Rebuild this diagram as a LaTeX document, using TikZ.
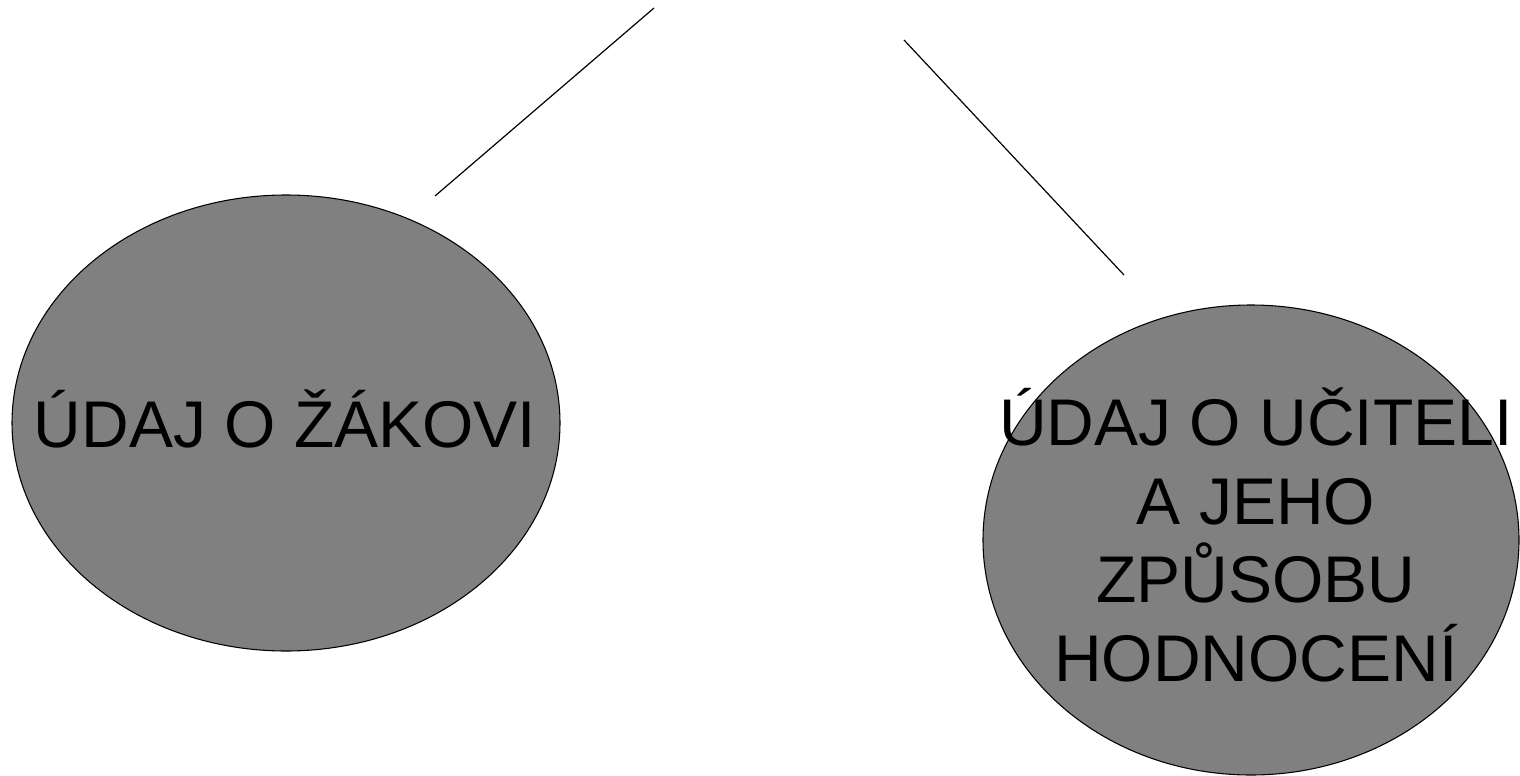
\documentclass[tikz,border=0pt]{standalone}
\usepackage{fontspec}
\setmainfont{Liberation Sans}
\usetikzlibrary{shapes.geometric}
\begin{document}
\begin{tikzpicture}[x=0.75pt,y=-0.75pt,
  blob/.style={ellipse,draw=black,line width=0.8pt,fill={rgb,255:red,128;green,128;blue,128},inner sep=0pt},
  label/.style={font=\fontsize{49.5}{59}\selectfont,align=center,inner sep=0pt,text=black},
  link/.style={draw=black,line width=0.9pt}]
\useasboundingbox (0,0) rectangle (1520,775);
\node[blob,minimum width=411pt,minimum height=342pt] (zak) at (286,423) {};
\node[blob,minimum width=402pt,minimum height=352.5pt] (ucitel) at (1251,540) {};
\node[label,anchor=base] (tzak) at (285,447) {ÚDAJ O ŽÁKOVI};
\node[label] (tucitel) at (1256,535) {ÚDAJ O UČITELI\\A JEHO\hspace*{0.3em}\\ZPŮSOBU\\HODNOCENÍ};
\coordinate (a1) at (654,8);
\coordinate (a2) at (435,196);
\coordinate (b1) at (904,40);
\coordinate (b2) at (1124,275);
\draw[link] (a1) -- (a2);
\draw[link] (b1) -- (b2);
\end{tikzpicture}
\end{document}
